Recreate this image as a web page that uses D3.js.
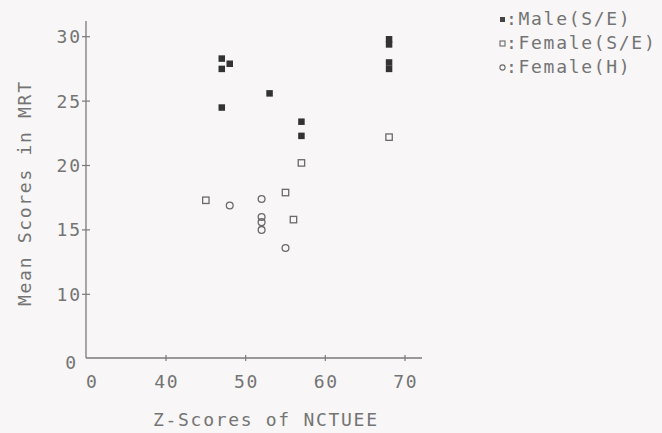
<!DOCTYPE html>
<html>
<head>
<meta charset="utf-8">
<script src="https://cdn.jsdelivr.net/npm/d3@7"></script>
<style>
  html, body { margin: 0; padding: 0; background: #f8f6f6; }
  svg { display: block; }
  text { font-family: "DejaVu Sans Mono", monospace; font-size: 18px; fill: #747474; letter-spacing: 1.7px; }
</style>
</head>
<body>
<svg id="chart" width="662" height="433"></svg>
<script>
// ---- data ----
const maleSE = [
  [47, 28.3], [48, 27.9], [47, 27.5], [47, 24.5], [53, 25.6],
  [57, 23.4], [57, 22.3], [68, 29.8], [68, 29.4], [68, 28.0], [68, 27.5]
];
const femaleSE = [
  [45, 17.3], [55, 17.9], [56, 15.8], [57, 20.2], [68, 22.2]
];
const femaleH = [
  [48, 16.9], [52, 17.4], [52, 16.0], [52, 15.6], [52, 15.0], [55, 13.6]
];
const xTicks = [0, 40, 50, 60, 70];
const yTicks = [0, 10, 15, 20, 25, 30];
const legendLabels = [":Male(S/E)", ":Female(S/E)", ":Female(H)"];
const xTitle = "Z-Scores of NCTUEE";
const yTitle = "Mean Scores in MRT";

// ---- scales (broken axes: 0 sits one step below the first real tick) ----
const x = d3.scaleLinear().domain([0, 40, 70]).range([86, 166, 405]);
const y = d3.scaleLinear().domain([0, 10, 30]).range([358, 294.3, 36.7]);

const svg = d3.select("#chart");
const axisColor = "#7a7a7a";
const LS = 1.7;

// axis lines
svg.append("line").attr("x1", x(0)).attr("x2", 422).attr("y1", y(0)).attr("y2", y(0))
  .attr("stroke", axisColor).attr("stroke-width", 1.3);
svg.append("line").attr("x1", x(0)).attr("x2", x(0)).attr("y1", y(0)).attr("y2", 21)
  .attr("stroke", axisColor).attr("stroke-width", 1.3);

// x ticks (crossing)
svg.selectAll(".xt").data(xTicks.filter(d => d !== 0)).join("line")
  .attr("x1", d => x(d)).attr("x2", d => x(d))
  .attr("y1", y(0) - 3).attr("y2", y(0) + 3)
  .attr("stroke", axisColor).attr("stroke-width", 1.2);
svg.selectAll(".xl").data(xTicks).join("text")
  .attr("x", d => x(d) + LS / 2 + (d === 0 ? 5.5 : 0))
  .attr("y", 388)
  .attr("text-anchor", "middle")
  .text(d => d);

// y ticks (crossing)
svg.selectAll(".yt").data(yTicks.filter(d => d !== 0)).join("line")
  .attr("x1", x(0) - 4).attr("x2", x(0) + 4)
  .attr("y1", d => y(d)).attr("y2", d => y(d))
  .attr("stroke", axisColor).attr("stroke-width", 1.2);
svg.selectAll(".yl").data(yTicks).join("text")
  .attr("x", d => (d === 0 ? 76 : 80) + LS)
  .attr("y", d => y(d) + 6.5 + (d === 0 ? 4 : 0))
  .attr("text-anchor", "end")
  .text(d => d);

// axis titles
svg.append("text").attr("x", 265 + LS / 2).attr("y", 426).attr("text-anchor", "middle").text(xTitle);
svg.append("text").attr("transform", "translate(31,194) rotate(-90)")
  .attr("x", LS / 2).attr("text-anchor", "middle").text(yTitle);

// ---- marks ----
const sq = 6.5;
svg.selectAll(".m").data(maleSE).join("rect")
  .attr("x", d => x(d[0]) - sq / 2).attr("y", d => y(d[1]) - sq / 2)
  .attr("width", sq).attr("height", sq).attr("fill", "#333");

svg.selectAll(".f").data(femaleSE).join("rect")
  .attr("x", d => x(d[0]) - 3.2).attr("y", d => y(d[1]) - 3.2)
  .attr("width", 6.4).attr("height", 6.4)
  .attr("fill", "none").attr("stroke", "#6a6a6a").attr("stroke-width", 1.3);

svg.selectAll(".h").data(femaleH).join("circle")
  .attr("cx", d => x(d[0])).attr("cy", d => y(d[1])).attr("r", 3.4)
  .attr("fill", "none").attr("stroke", "#6a6a6a").attr("stroke-width", 1.3);

// ---- legend ----
const legY = [25, 49, 73];
const lg = svg.append("g");
lg.append("rect").attr("x", 500).attr("y", legY[0] - 8).attr("width", 5).attr("height", 5).attr("fill", "#444");
lg.append("rect").attr("x", 500).attr("y", legY[1] - 8).attr("width", 5).attr("height", 5)
  .attr("fill", "none").attr("stroke", "#6a6a6a").attr("stroke-width", 1.1);
lg.append("circle").attr("cx", 502.5).attr("cy", legY[2] - 5.5).attr("r", 2.6)
  .attr("fill", "none").attr("stroke", "#6a6a6a").attr("stroke-width", 1.1);
lg.selectAll(".lt").data(legendLabels).join("text")
  .attr("x", 506).attr("y", (d, i) => legY[i]).text(d => d);
</script>
</body>
</html>
